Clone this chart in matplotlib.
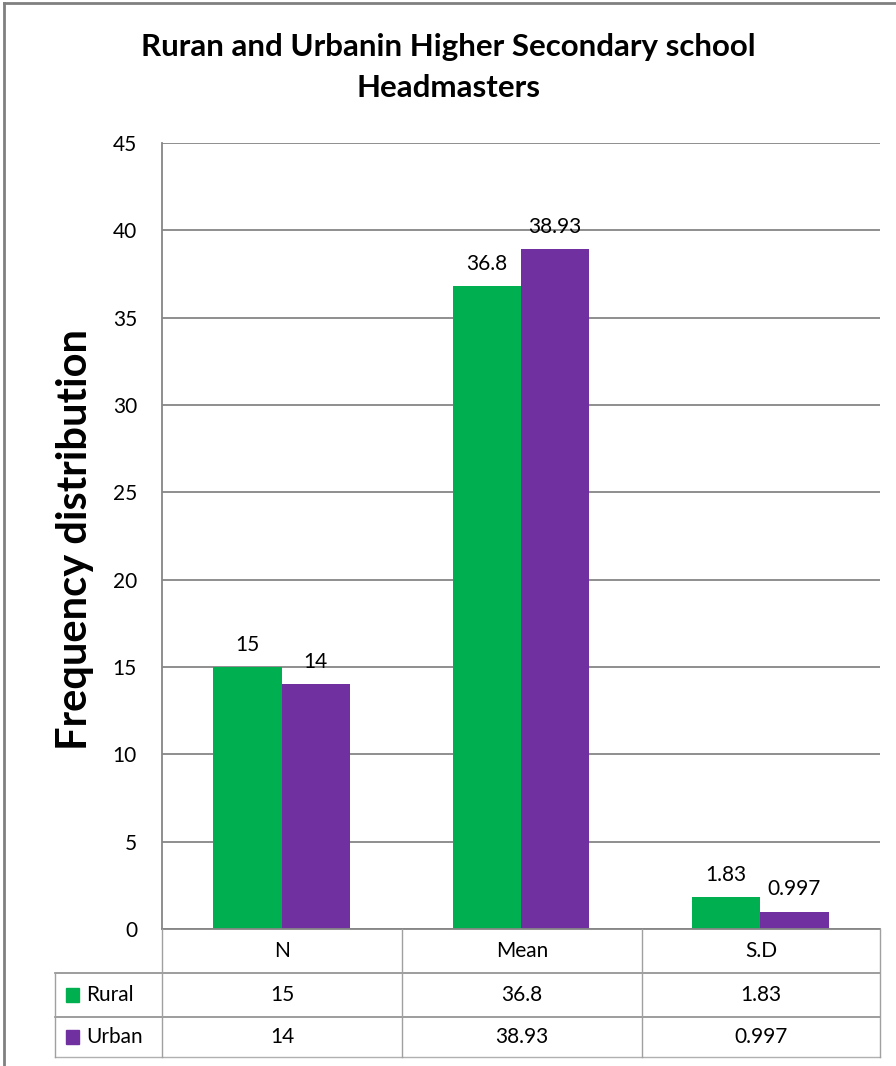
import matplotlib
matplotlib.use("Agg")
import matplotlib.pyplot as plt
from matplotlib.lines import Line2D
from matplotlib.patches import Rectangle
import numpy as np

plt.rcParams['font.family'] = ['Lato', 'DejaVu Sans']

categories = ["N", "Mean", "S.D"]
series_names = ["Rural", "Urban"]
rural = [15, 36.8, 1.83]
urban = [14, 38.93, 0.997]
rural_labels = ["15", "36.8", "1.83"]
urban_labels = ["14", "38.93", "0.997"]
colors = ["#00B050", "#7030A0"]
yticks = [0, 5, 10, 15, 20, 25, 30, 35, 40, 45]

W, H = 896, 1066
fig = plt.figure(figsize=(W / 100, H / 100), dpi=100)

def fx(px):
    return px / W

def fy(py):
    return 1 - py / H

grid_c = "#868686"
fs = 15

# plot area
left, right, top, bottom = 162, 880, 143, 929
ax = fig.add_axes([fx(left), fy(bottom), fx(right - left), fy(top) - fy(bottom)])
x = np.arange(len(categories))
bw = 0.285
ax.bar(x - bw / 2, rural, bw, color=colors[0], zorder=3)
ax.bar(x + bw / 2, urban, bw, color=colors[1], zorder=3)
for xi, v, lab in zip(x, rural, rural_labels):
    ax.text(xi - bw / 2, v + 0.7, lab, ha="center", va="bottom", fontsize=fs)
for xi, v, lab in zip(x, urban, urban_labels):
    ax.text(xi + bw / 2, v + 0.7, lab, ha="center", va="bottom", fontsize=fs)
ax.set_xlim(-0.5, len(categories) - 0.5)
ax.set_ylim(0, 45)
ax.set_yticks(yticks)
ax.set_yticklabels([str(t) for t in yticks], fontsize=fs)
ax.tick_params(axis="y", length=0, pad=18)
ax.set_xticks([])
ax.grid(axis="y", color=grid_c, linewidth=1.3, zorder=0)
for s in ["top", "right", "bottom"]:
    ax.spines[s].set_visible(False)
ax.spines["left"].set_color(grid_c)
ax.spines["left"].set_linewidth(1.3)
ax.set_ylabel("Frequency distribution", fontsize=30, fontweight="bold", va="center")
ax.yaxis.set_label_coords((75 - left) / (right - left), (bottom - 540) / (bottom - top))

# title
fig.text(0.5, fy(47), "Ruran and Urbanin Higher Secondary school",
         ha="center", va="center", fontsize=22.5, fontweight="bold")
fig.text(0.5, fy(88), "Headmasters", ha="center", va="center",
         fontsize=22.5, fontweight="bold")

# data table below the axis
cols = [162, 402, 642, 880]
rows = [929, 973, 1017, 1057]
tleft = 55
lc = "#A0A0A0"

def hline(y, x0, x1, c=lc, lw=1.0):
    fig.add_artist(Line2D([fx(x0), fx(x1)], [fy(y), fy(y)], color=c, lw=lw))

def vline(xp, y0, y1, c=lc, lw=1.0):
    fig.add_artist(Line2D([fx(xp), fx(xp)], [fy(y0), fy(y1)], color=c, lw=lw))

hline(rows[0], cols[0], cols[-1], grid_c, 1.3)
hline(rows[1], tleft, cols[-1], "#8C8C8C", 1.2)
hline(rows[2], tleft, cols[-1], "#8C8C8C", 1.2)
hline(rows[3], tleft, cols[-1], "#B0B0B0", 1.0)
for c in cols:
    vline(c, rows[0], rows[3])
vline(tleft, rows[1], rows[3])

for i, cat in enumerate(categories):
    cx = (cols[i] + cols[i + 1]) / 2
    fig.text(fx(cx), fy((rows[0] + rows[1]) / 2), cat, ha="center", va="center", fontsize=fs)
    fig.text(fx(cx), fy((rows[1] + rows[2]) / 2), rural_labels[i], ha="center", va="center", fontsize=fs)
    fig.text(fx(cx), fy((rows[2] + rows[3]) / 2), urban_labels[i], ha="center", va="center", fontsize=fs)

for j, name in enumerate(series_names):
    cy = (rows[1 + j] + rows[2 + j]) / 2
    fig.add_artist(Rectangle((fx(66), fy(cy + 7)), fx(13), fy(cy - 7) - fy(cy + 7),
                             color=colors[j], transform=fig.transFigure))
    fig.text(fx(86), fy(cy), name, ha="left", va="center", fontsize=fs)

# outer chart frame
fig.add_artist(Line2D([fx(4), fx(4)], [fy(3), 0], color="#808080", lw=2))
fig.add_artist(Line2D([fx(4), 1], [fy(3), fy(3)], color="#808080", lw=2))

fig.savefig("out.png", dpi=100)
